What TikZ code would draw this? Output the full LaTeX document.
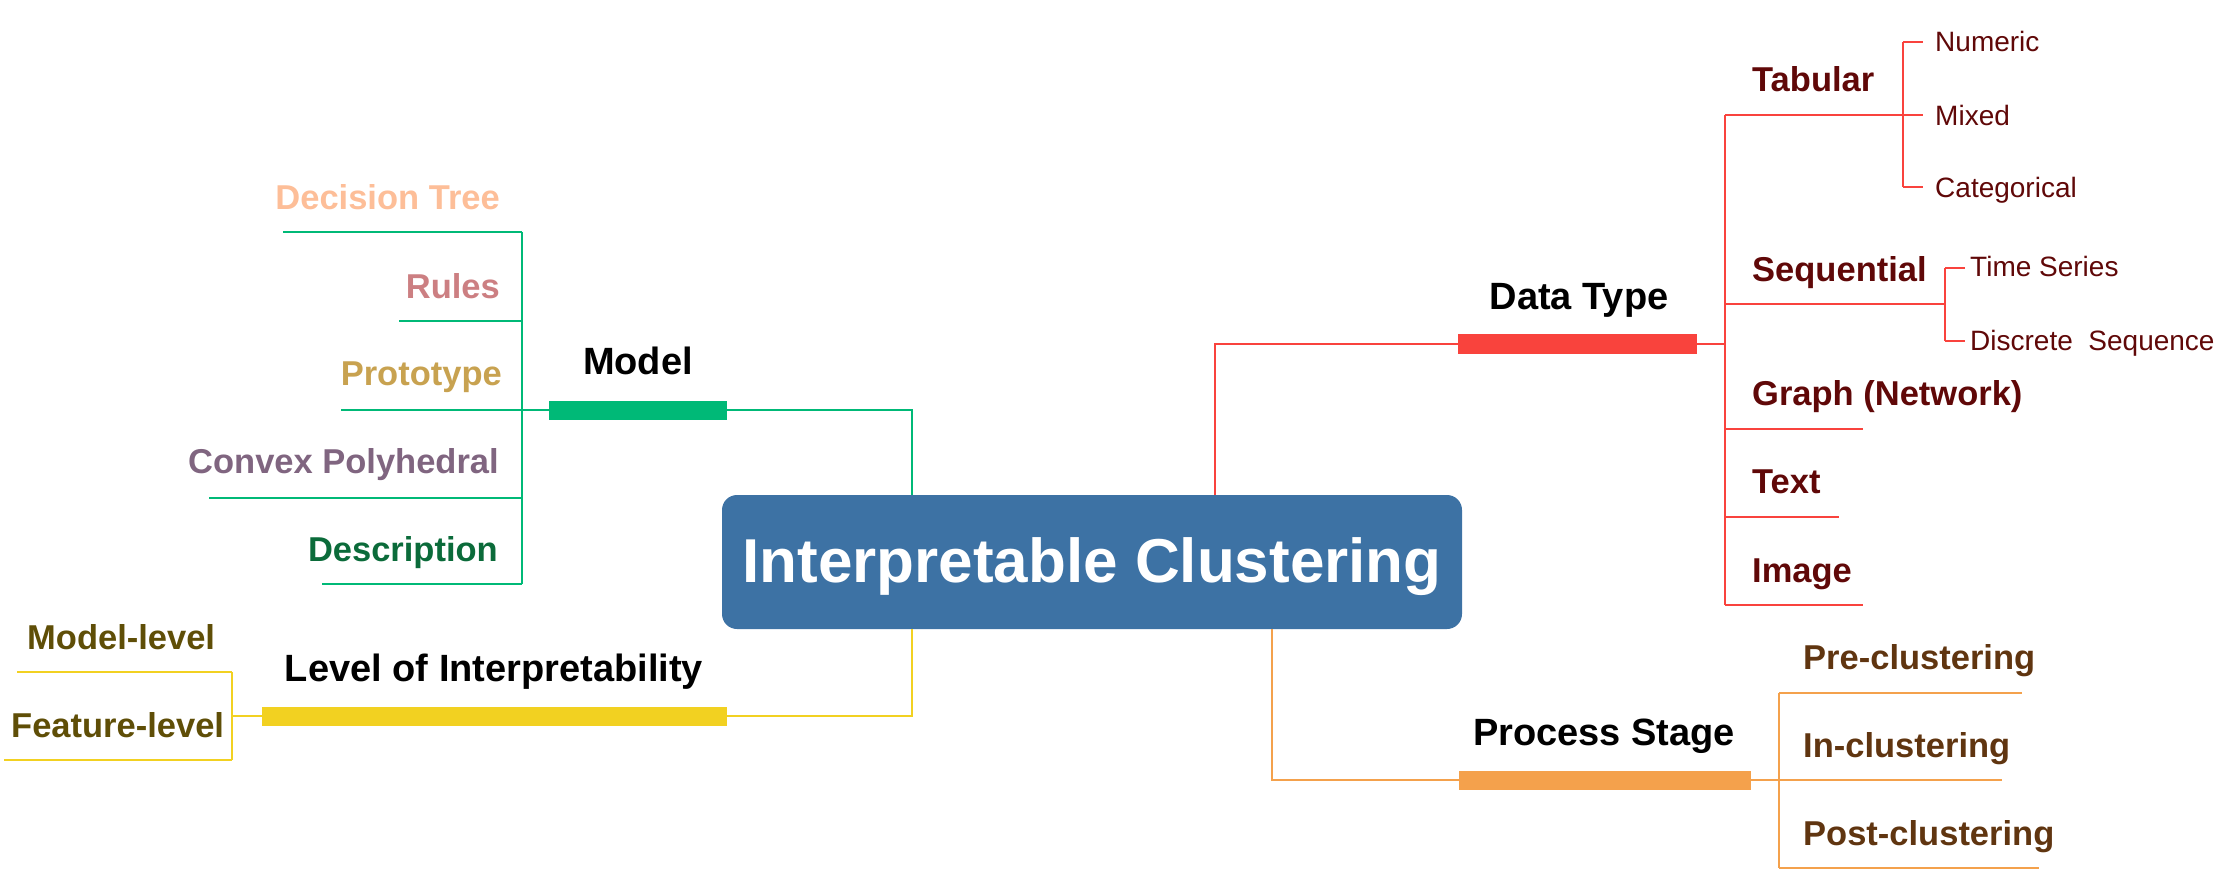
\documentclass[tikz,border=0pt]{standalone}
\usepackage{fontspec}
\setmainfont{Liberation Sans}
\definecolor{boxblue}{HTML}{3D72A4}
\definecolor{mgreen}{HTML}{00B977}
\definecolor{myellow}{HTML}{F2D121}
\definecolor{mred}{HTML}{F9433D}
\definecolor{morange}{HTML}{F4A14C}
\definecolor{cdt}{HTML}{FDBE98}
\definecolor{crules}{HTML}{CC7F82}
\definecolor{cproto}{HTML}{C8A250}
\definecolor{cconvex}{HTML}{806580}
\definecolor{cdesc}{HTML}{0B6B3A}
\definecolor{colive}{HTML}{5F4E07}
\definecolor{cdred}{HTML}{600808}
\definecolor{cbrown}{HTML}{603510}
\newcommand\fsz[1]{\fontsize{#1}{#1}\selectfont}
\begin{document}
\begin{tikzpicture}[x=1pt,y=-1pt,
  link/.style={line width=2.5pt},
  bar/.style={draw=none, inner sep=0pt, minimum height=19pt},
  blabel/.style={inner sep=0pt, anchor=base, font=\fsz{38}\bfseries, text=black},
  leaf/.style={inner sep=0pt, font=\fsz{34.5}\bfseries},
  sleaf/.style={inner sep=0pt, anchor=base west, font=\fsz{28}, text=cdred},
  root/.style={fill=boxblue, rounded corners=15pt, minimum width=740pt, minimum height=134pt,
    inner sep=0pt, text height=48pt, text depth=8pt, text=white, font=\fsz{62}\bfseries}]
\useasboundingbox (0,0) rectangle (2217,885);

% root
\node[root] (root) at (1092,562) {Interpretable Clustering};

% ---------------- Model branch
\node[bar, fill=mgreen, minimum width=178pt] (mbar) at (638,410) {};
\node[blabel] (mlab) at (638,374) {Model};
\coordinate (mj) at (912,410);
\draw[link, mgreen] (mbar.east) -- (mj) -- (mj |- root.north);
\coordinate (mvt) at (522,232);
\coordinate (mvb) at (522,584);
\draw[link, mgreen] (mvt) -- (mvb);
\draw[link, mgreen] (mbar.west) -- (mbar.west -| mvt);
\node[leaf, anchor=base east, text=cdt] (dt) at (500,210) {Decision Tree};
\node[leaf, anchor=base east, text=crules] (ru) at (500,299) {Rules};
\node[leaf, anchor=base east, text=cproto] (pr) at (502,385) {Prototype};
\node[leaf, anchor=base east, text=cconvex] (cp) at (499,473) {Convex Polyhedral};
\node[leaf, anchor=base east, text=cdesc] (de) at (498,561) {Description};
\coordinate (dtL) at (283,232);
\coordinate (ruL) at (399,321);
\coordinate (prL) at (341,410);
\coordinate (cpL) at (209,498);
\coordinate (deL) at (322,584);
\draw[link, mgreen] (dtL) -- (dtL -| mvt);
\draw[link, mgreen] (ruL) -- (ruL -| mvt);
\draw[link, mgreen] (prL) -- (prL -| mvt);
\draw[link, mgreen] (cpL) -- (cpL -| mvt);
\draw[link, mgreen] (deL) -- (deL -| mvt);

% ---------------- Level of Interpretability
\node[bar, fill=myellow, minimum width=465pt] (ybar) at (494.5,716) {};
\node[blabel] (ylab) at (494,681) {Level of Interpretability};
\coordinate (yj) at (912,716);
\draw[link, myellow] (ybar.east) -- (yj) -- (yj |- root.south);
\coordinate (yvt) at (232,672);
\coordinate (yvb) at (232,760);
\draw[link, myellow] (ybar.west) -- (ybar.west -| yvt);
\draw[link, myellow] (yvt) -- (yvb);
\coordinate (mlL) at (17,672);
\coordinate (flL) at (4,760);
\draw[link, myellow] (mlL) -- (yvt);
\draw[link, myellow] (flL) -- (yvb);
\node[leaf, anchor=base west, text=colive] (ml) at (27,649) {Model-level};
\node[leaf, anchor=base west, text=colive] (fl) at (11,737) {Feature-level};

% ---------------- Data Type
\node[bar, fill=mred, minimum width=239pt] (rbar) at (1577.5,344) {};
\node[blabel] (rlab) at (1579,310) {Data Type};
\coordinate (rj) at (1215,344);
\draw[link, mred] (rbar.west) -- (rj) -- (rj |- root.north);
\coordinate (rvt) at (1725,115);
\coordinate (rvb) at (1725,605);
\draw[link, mred] (rbar.east) -- (rbar.east -| rvt);
\draw[link, mred] (rvt) -- (rvb);
% Tabular
\node[leaf, anchor=base west, text=cdred] (tab) at (1752,92) {Tabular};
\coordinate (tabR) at (1923,115);
\draw[link, mred] (rvt) -- (tabR);
\coordinate (tvt) at (1903,42);
\coordinate (tvb) at (1903,187);
\draw[link, mred] (tvt) -- (tvb);
\draw[link, mred] (tvt) -- ++(20,0);
\draw[link, mred] (tvb) -- ++(20,0);
\node[sleaf] (num) at (1935,52) {Numeric};
\node[sleaf] (mix) at (1935,126) {Mixed};
\node[sleaf] (cat) at (1935,198) {Categorical};
% Sequential
\node[leaf, anchor=base west, text=cdred] (seq) at (1752,282) {Sequential};
\coordinate (seqL) at (1725,304);
\coordinate (svt) at (1945,268);
\coordinate (svb) at (1945,341);
\draw[link, mred] (seqL) -- (seqL -| svt);
\draw[link, mred] (svt) -- (svb);
\draw[link, mred] (svt) -- ++(20,0);
\draw[link, mred] (svb) -- ++(20,0);
\node[sleaf] (ts) at (1970,277) {Time Series};
\node[sleaf] (ds) at (1970,350) {Discrete\ \ Sequence};
% Graph, Text, Image
\node[leaf, anchor=base west, text=cdred] (gr) at (1752,405) {Graph (Network)};
\node[leaf, anchor=base west, text=cdred] (tx) at (1752,493) {Text};
\node[leaf, anchor=base west, text=cdred] (im) at (1752,582) {Image};
\coordinate (grL) at (1725,429);
\coordinate (txL) at (1725,517);
\draw[link, mred] (grL) -- ++(138,0);
\draw[link, mred] (txL) -- ++(114,0);
\draw[link, mred] (rvb) -- ++(138,0);

% ---------------- Process Stage
\node[bar, fill=morange, minimum width=292pt] (obar) at (1605,780) {};
\node[blabel] (olab) at (1604,745) {Process Stage};
\coordinate (oj) at (1272,780);
\draw[link, morange] (obar.west) -- (oj) -- (oj |- root.south);
\coordinate (ovt) at (1779,693);
\coordinate (ovb) at (1779,868);
\draw[link, morange] (obar.east) -- (obar.east -| ovt);
\draw[link, morange] (ovt) -- (ovb);
\draw[link, morange] (ovt) -- ++(243,0);
\draw[link, morange] (obar.east -| ovt) -- ++(223,0);
\draw[link, morange] (ovb) -- ++(260,0);
\node[leaf, anchor=base west, text=cbrown] (pre) at (1803,669) {Pre-clustering};
\node[leaf, anchor=base west, text=cbrown] (inc) at (1803,757) {In-clustering};
\node[leaf, anchor=base west, text=cbrown] (post) at (1803,845) {Post-clustering};
\end{tikzpicture}
\end{document}
